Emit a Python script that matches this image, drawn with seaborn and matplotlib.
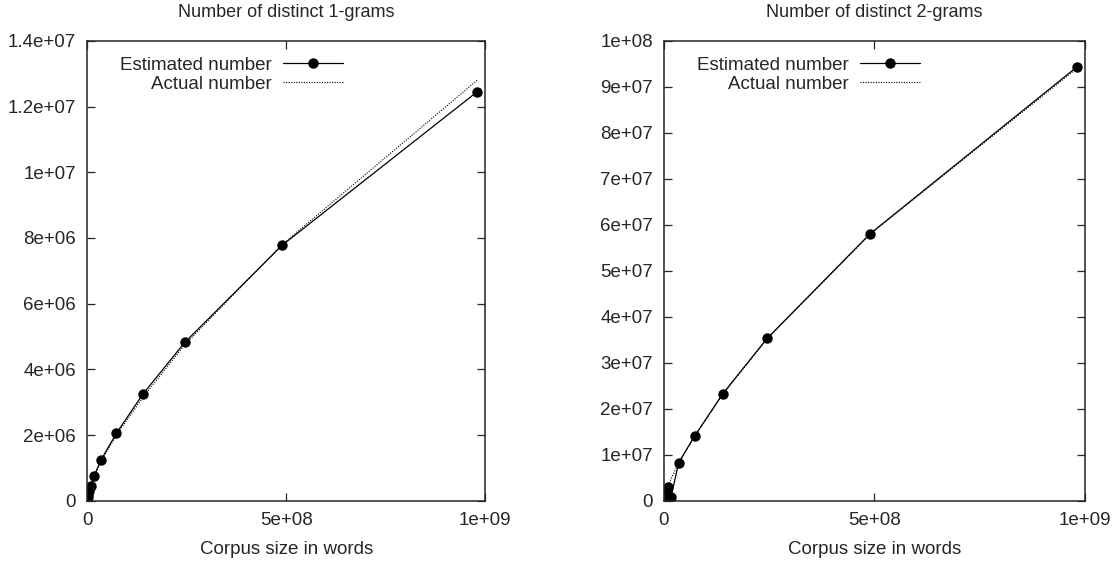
import matplotlib
matplotlib.use('Agg')
import matplotlib.pyplot as plt
from matplotlib.ticker import FuncFormatter, MultipleLocator
import seaborn as sns

# corpus sizes (words), largest first
sizes = [980e6, 490e6, 245e6, 140e6, 73e6, 35e6, 17e6, 9e6, 4.5e6, 2.2e6, 1.1e6]

# 1-grams
est_1 = [12.45e6, 7.78e6, 4.82e6, 3.25e6, 2.05e6, 1.25e6, 0.75e6, 0.45e6, 0.30e6, 0.20e6, 0.12e6]
act_1 = [12.8e6, 7.8e6, 4.75e6, 3.15e6, 1.99e6, 1.22e6, 0.73e6, 0.44e6, 0.28e6, 0.18e6, 0.11e6]

# 2-grams
est_2 = [94.3e6, 58.1e6, 35.3e6, 23.3e6, 14.1e6, 8.3e6, 0.9e6, 2.9e6, 1.6e6, 0.9e6, 0.5e6]
act_2 = [94.0e6, 58.0e6, 35.2e6, 23.2e6, 14.0e6, 8.2e6, 4.8e6, 2.8e6, 1.6e6, 0.9e6, 0.5e6]

titles = ['Number of distinct 1-grams', 'Number of distinct 2-grams']
xlabel = 'Corpus size in words'

sns.set_style('ticks')
plt.rcParams['font.family'] = ['Liberation Sans', 'DejaVu Sans']
plt.rcParams['font.size'] = 13.5

fig = plt.figure(figsize=(11.15, 5.62), dpi=100)
ax1 = fig.add_axes([0.0783, 0.1091, 0.3567, 0.8180])
ax2 = fig.add_axes([0.5955, 0.1091, 0.3776, 0.8180])

fmt = FuncFormatter(lambda v, p: '%g' % v)

panels = [
    (ax1, est_1, act_1, 1.4e7, 2e6, 0.643),
    (ax2, est_2, act_2, 1e8, 1e7, 0.608),
]

for i, (ax, est, act, ymax, ystep, leg_x) in enumerate(panels):
    sns.lineplot(x=sizes, y=est, sort=False, ax=ax, color='black', lw=0.9,
                 marker='o', markersize=7.5, markeredgewidth=0, label='Estimated number')
    sns.lineplot(x=sizes, y=act, sort=False, ax=ax, color='black', lw=0.8,
                 linestyle=(0, (1, 1.3)), label='Actual number')
    ax.set_xlim(0, 1e9)
    ax.set_ylim(0, ymax)
    ax.xaxis.set_major_locator(MultipleLocator(5e8))
    ax.yaxis.set_major_locator(MultipleLocator(ystep))
    ax.xaxis.set_major_formatter(fmt)
    ax.yaxis.set_major_formatter(fmt)
    ax.tick_params(direction='in', length=6, width=0.9, top=True, right=True,
                   labelsize=13.5, pad=8)
    for s in ax.spines.values():
        s.set_linewidth(1.1)
        s.set_visible(True)
    ax.set_title(titles[i], fontsize=13, pad=17)
    ax.set_xlabel(xlabel, fontsize=13.5, labelpad=9)
    ax.set_ylabel('')
    ax.legend(loc='upper right', bbox_to_anchor=(leg_x, 0.966), frameon=False,
              markerfirst=False, handlelength=3.2, handletextpad=0.6,
              labelspacing=0.1, fontsize=13.5, borderaxespad=0, borderpad=0)

fig.savefig('out.png', dpi=100)
